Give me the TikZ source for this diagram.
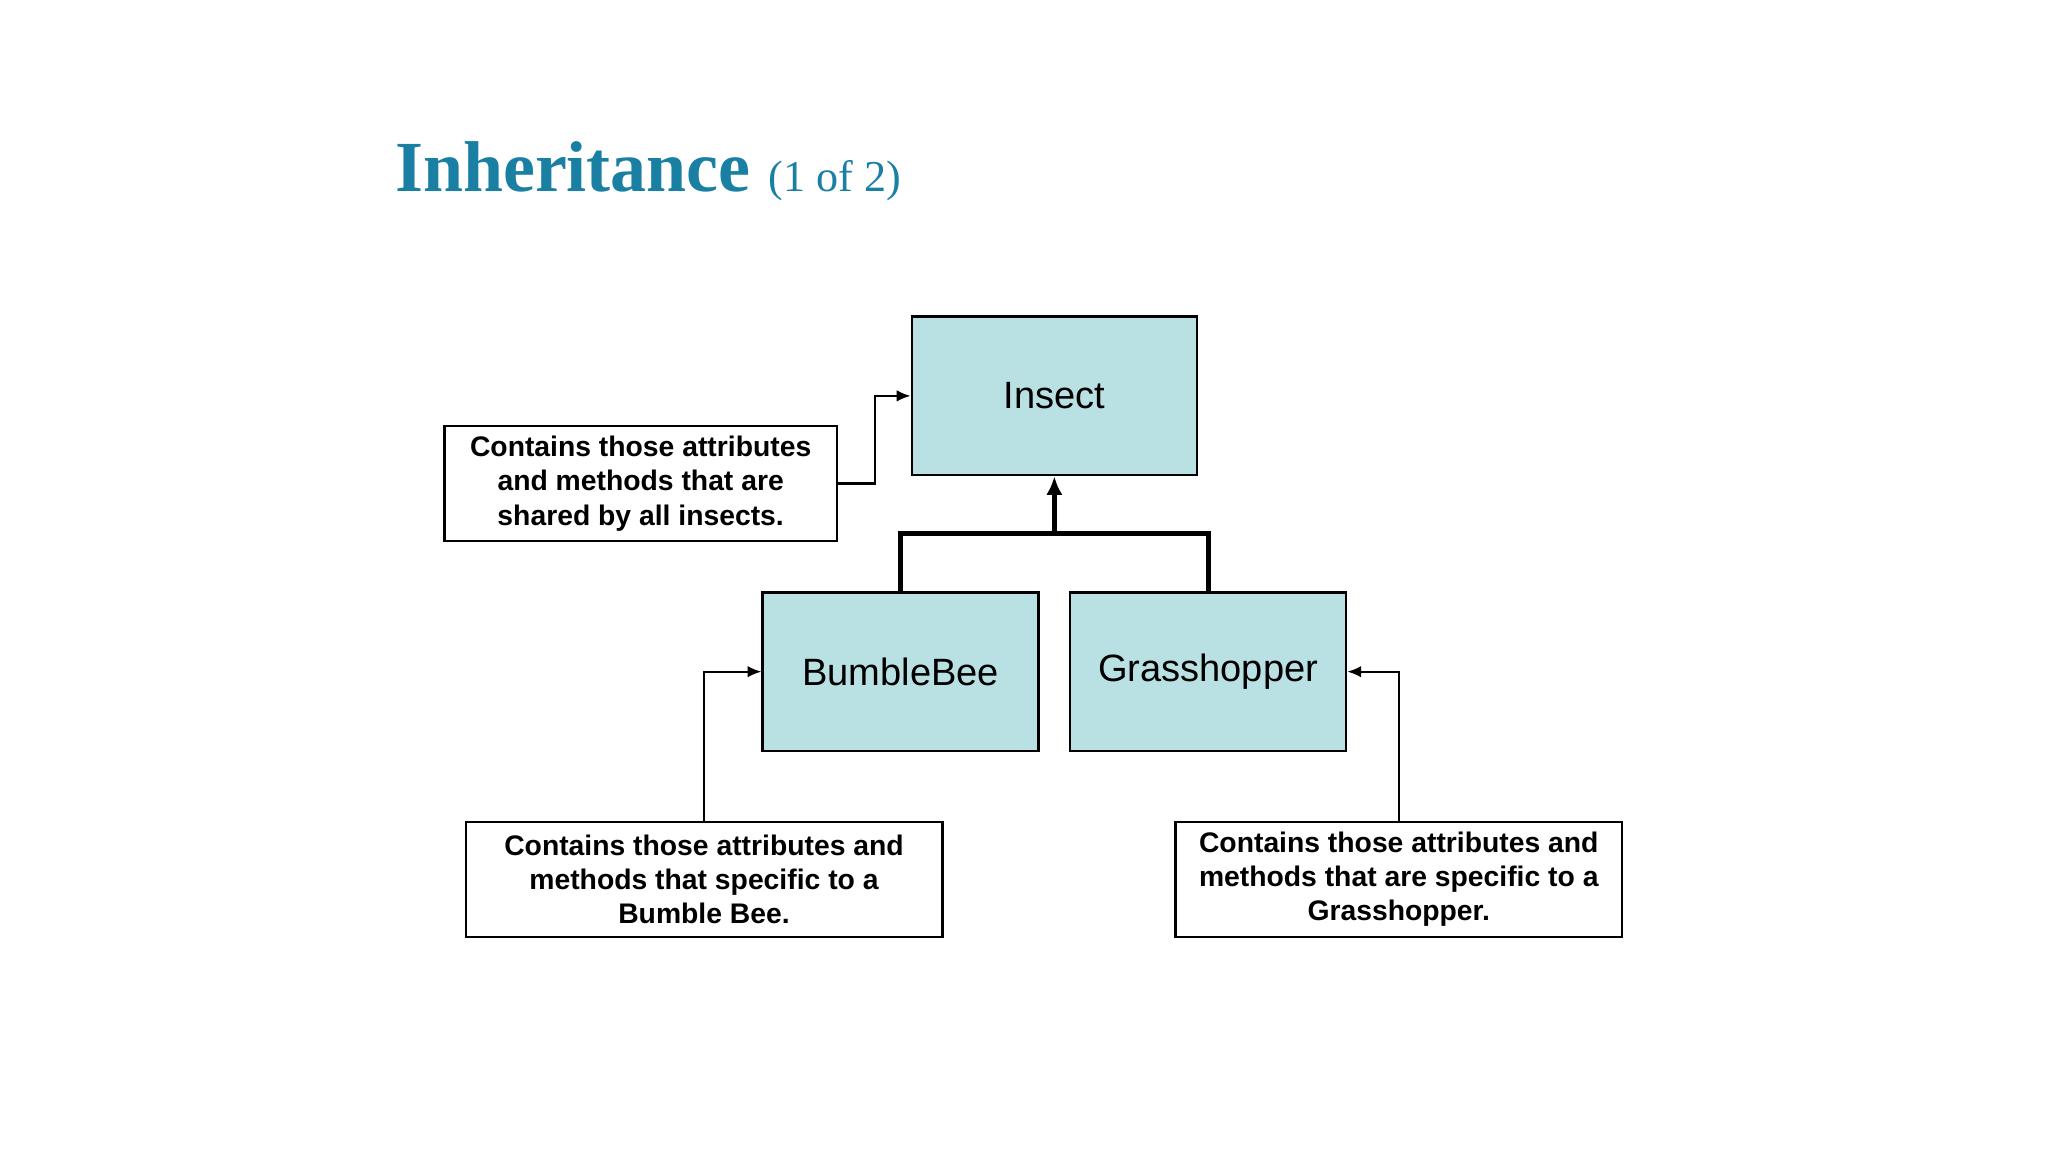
\documentclass[tikz,border=0pt]{standalone}
\usepackage{fontspec}
\setmainfont{Liberation Sans}
\newfontfamily\titlefont{Liberation Serif}
\usetikzlibrary{arrows.meta}
\definecolor{boxfill}{HTML}{B9E0E2}
\definecolor{titleblue}{HTML}{1A80A3}
\begin{document}
\begin{tikzpicture}[x=0.01cm,y=-0.01cm,
  cls/.style={draw,fill=boxfill,line width=0.5pt,minimum width=2.09cm,minimum height=1.2cm,inner sep=0pt,font=\fontsize{8.2}{10}\selectfont},
  note/.style={draw,fill=white,line width=0.5pt,align=center,inner sep=0pt,font=\bfseries\fontsize{6.1}{7.35}\selectfont},
  thin/.style={line width=0.5pt,-{Latex[length=3pt,width=2.5pt]}},
  thick/.style={line width=1.1pt}]
\useasboundingbox (0,0) rectangle (1552,873);
\node[anchor=base west,text=titleblue,font=\titlefont\bfseries\fontsize{15.5}{18}\selectfont] (title) at (287,145) {Inheritance {\mdseries\fontsize{9.5}{11}\selectfont(1 of 2)}};
\node[cls,minimum width=2.16cm] (insect) at (799,300) {Insect};
\node[cls] (bee) at (682.5,509) {BumbleBee};
\node[cls] (gh) at (915.5,509) {Grasshopper};
\node[note,minimum width=2.97cm,minimum height=0.87cm] (n1) at (485.5,366.5) {Contains those attributes\\and methods that are\\shared by all insects.};
\node[note,minimum width=3.61cm,minimum height=0.87cm] (n2) at (533.5,666.5) {Contains those attributes and\\methods that specific to a\\Bumble Bee.};
\node[note,minimum width=3.38cm,minimum height=0.87cm] (n3) at (1060,666.5) {Contains those attributes and\\methods that are specific to a\\Grasshopper.};
\coordinate (j) at (799,404);
\draw[thick] (bee.north) |- (j) -| (gh.north);
\draw[thick,-{Latex[length=4pt,width=3.5pt]}] (j) -- (insect.south);
\draw[thin] (n1.east) -- ++(28,0) |- (insect.west);
\draw[thin] (n2.north) |- (bee.west);
\draw[thin] (n3.north) |- (gh.east);
\end{tikzpicture}
\end{document}
